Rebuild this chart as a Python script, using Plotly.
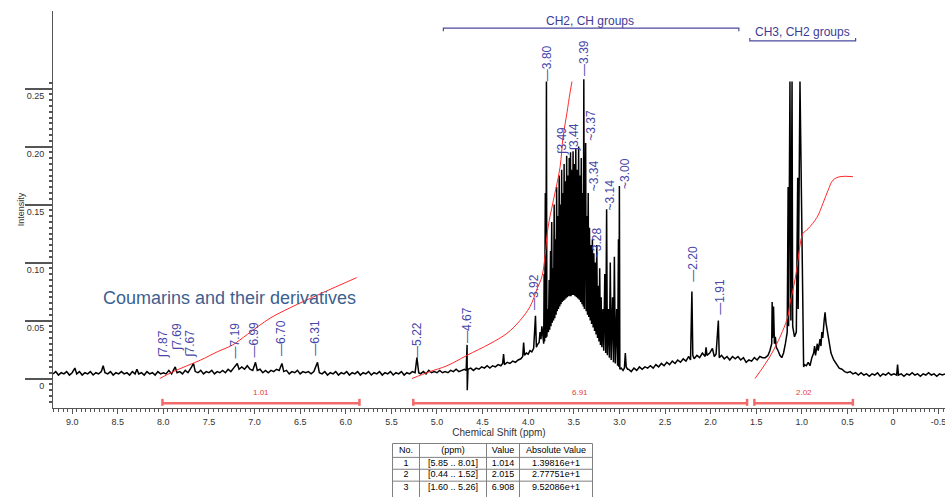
import numpy as np
import plotly.graph_objects as go

# ---------------- data ----------------
# spectrum: (chemical shift in ppm, intensity)
aromatic_region = [
    (9.21, .004), (9.18, .006), (9.15, .003), (9.12, .005), (9.09, .004), (9.06, .006), (9.03, .003), (9.00, .005),
    (8.97, .009), (8.95, .004), (8.92, .006), (8.89, .003), (8.86, .005), (8.83, .004), (8.80, .006), (8.77, .003),
    (8.74, .005), (8.71, .004), (8.68, .006), (8.66, .011), (8.64, .005), (8.61, .004), (8.58, .006), (8.55, .003),
    (8.52, .005), (8.49, .004), (8.46, .006), (8.43, .004), (8.40, .005), (8.37, .003), (8.34, .006), (8.31, .004),
    (8.29, .008), (8.27, .004), (8.24, .005), (8.21, .003), (8.18, .006), (8.15, .004), (8.12, .005), (8.09, .003),
    (8.06, .006), (8.03, .004), (8.00, .005), (7.97, .004), (7.94, .007), (7.91, .004), (7.87, .010), (7.85, .005),
    (7.82, .006), (7.79, .004), (7.76, .007), (7.73, .005), (7.69, .010), (7.67, .013), (7.65, .006), (7.62, .005),
    (7.59, .007), (7.56, .004), (7.53, .006), (7.50, .005), (7.47, .007), (7.44, .004), (7.41, .006), (7.38, .005),
    (7.35, .007), (7.32, .005), (7.29, .008), (7.26, .006), (7.23, .009), (7.19, .013), (7.17, .008), (7.14, .010),
    (7.11, .008), (7.08, .011), (7.05, .008), (7.02, .007), (6.99, .014), (6.97, .007), (6.94, .008), (6.91, .005),
    (6.88, .007), (6.85, .005), (6.82, .007), (6.79, .006), (6.76, .008), (6.73, .007), (6.70, .013), (6.68, .006),
    (6.65, .007), (6.62, .004), (6.59, .006), (6.56, .005), (6.53, .007), (6.50, .004), (6.47, .006), (6.44, .005),
    (6.41, .006), (6.38, .004), (6.35, .006), (6.31, .014), (6.29, .005), (6.26, .004), (6.23, .006), (6.20, .003),
    (6.17, .005), (6.14, .004), (6.11, .006), (6.08, .003), (6.05, .005), (6.02, .004), (5.99, .006), (5.96, .003),
    (5.93, .005), (5.90, .004), (5.87, .006), (5.84, .003), (5.81, .005), (5.78, .004), (5.75, .006), (5.72, .003),
    (5.69, .005), (5.66, .004), (5.63, .006), (5.60, .003), (5.57, .005), (5.54, .004), (5.51, .006), (5.48, .003),
    (5.45, .005), (5.42, .004), (5.39, .006), (5.36, .003), (5.33, .005), (5.30, .004), (5.27, .006), (5.24, .005),
    (5.22, .018), (5.20, .005),
]

rising_region = [
    (5.18, .004), (5.15, .006), (5.12, .004), (5.09, .007), (5.06, .005), (5.03, .006), (5.00, .005), (4.97, .007),
    (4.94, .005), (4.91, .006), (4.88, .005), (4.85, .007), (4.82, .006), (4.79, .008), (4.76, .006), (4.73, .007),
    (4.70, .008), (4.68, .007), (4.67, .029), (4.668, -.010), (4.66, .008), (4.63, .009), (4.60, .007), (4.57, .009),
    (4.54, .008), (4.51, .010), (4.48, .009), (4.45, .011), (4.42, .009), (4.39, .011), (4.36, .010), (4.33, .012),
    (4.30, .011), (4.28, .013), (4.27, .021), (4.26, .012), (4.23, .014), (4.20, .013), (4.17, .015), (4.14, .014),
    (4.11, .016), (4.08, .017), (4.06, .019), (4.05, .031), (4.04, .020), (4.02, .022), (4.00, .021), (3.98, .024),
    (3.96, .023), (3.94, .026), (3.92, .054), (3.91, .027), (3.90, .029), (3.88, .031), (3.87, .040), (3.86, .034),
    (3.85, .045), (3.84, .038),
]

sugar_region = [
    (3.830, .030), (3.825, .090), (3.820, .032), (3.812, .160), (3.806, .035), (3.800, .256), (3.795, .036),
    (3.785, .060), (3.778, .040), (3.770, .085), (3.764, .042), (3.755, .110), (3.750, .045), (3.742, .135),
    (3.736, .048), (3.728, .095), (3.722, .050), (3.715, .150), (3.708, .052), (3.700, .120), (3.694, .055),
    (3.688, .165), (3.682, .058), (3.675, .140), (3.668, .060), (3.660, .175), (3.654, .062), (3.647, .150),
    (3.640, .064), (3.633, .180), (3.627, .066), (3.620, .160), (3.613, .067), (3.606, .185), (3.600, .068),
    (3.593, .170), (3.586, .069), (3.578, .192), (3.572, .070), (3.565, .175), (3.558, .071), (3.550, .190),
    (3.543, .071), (3.536, .195), (3.530, .071), (3.522, .180), (3.515, .072), (3.508, .196), (3.500, .072),
    (3.492, .185), (3.486, .071), (3.478, .198), (3.470, .070), (3.462, .180), (3.455, .069), (3.447, .200),
    (3.440, .068), (3.432, .175), (3.425, .066), (3.418, .190), (3.410, .064), (3.403, .160), (3.396, .062),
    (3.390, .258), (3.384, .060), (3.376, .150), (3.370, .203), (3.364, .058), (3.357, .140), (3.350, .055),
    (3.342, .160), (3.336, .053), (3.328, .130), (3.320, .050), (3.312, .115), (3.305, .047), (3.296, .120),
    (3.288, .044), (3.280, .108), (3.272, .041), (3.264, .100), (3.256, .038), (3.248, .115), (3.240, .035),
    (3.232, .080), (3.224, .032), (3.216, .095), (3.208, .029), (3.200, .070), (3.192, .027), (3.180, .060),
    (3.172, .024), (3.160, .090), (3.150, .022), (3.140, .146), (3.132, .020), (3.120, .060), (3.110, .018),
    (3.100, .100), (3.090, .016), (3.075, .070), (3.065, .014), (3.055, .105), (3.045, .013), (3.030, .060),
    (3.020, .011), (3.010, .120), (3.005, .010), (3.000, .166), (2.995, .008), (2.980, .009), (2.960, .007),
    (2.945, .009), (2.935, .022), (2.925, .010), (2.910, .008),
]

middle_region = [
    (2.90, .008), (2.87, .006), (2.84, .009), (2.81, .007), (2.78, .010), (2.75, .008), (2.72, .010), (2.69, .009),
    (2.66, .011), (2.63, .009), (2.60, .012), (2.57, .010), (2.54, .013), (2.51, .011), (2.48, .014), (2.45, .012),
    (2.42, .015), (2.39, .013), (2.36, .016), (2.33, .014), (2.30, .017), (2.27, .015), (2.24, .019), (2.22, .016),
    (2.205, .075), (2.195, .020), (2.18, .017), (2.15, .020), (2.12, .018), (2.09, .022), (2.06, .019), (2.05, .027),
    (2.04, .020), (2.01, .022), (1.98, .026), (1.96, .019), (1.94, .021), (1.915, .050), (1.905, .018), (1.88, .020),
    (1.85, .017), (1.82, .019), (1.79, .016), (1.76, .019), (1.73, .017), (1.70, .019), (1.67, .016), (1.64, .018),
    (1.61, .014), (1.58, .016), (1.55, .015), (1.52, .018), (1.49, .016), (1.46, .019), (1.43, .018),
]

aliphatic_region = [
    (1.40, .018), (1.37, .020), (1.35, .024), (1.33, .030), (1.325, .066), (1.32, .035), (1.31, .062), (1.30, .030),
    (1.29, .036), (1.28, .027), (1.26, .024), (1.24, .020), (1.22, .018), (1.20, .022), (1.18, .030), (1.16, .040),
    (1.15, .165), (1.145, .045), (1.13, .256), (1.12, .050), (1.107, .256), (1.10, .045), (1.08, .036), (1.06, .040),
    (1.045, .173), (1.04, .060), (1.02, .256), (1.01, .188), (1.00, .150), (0.99, .030), (0.98, .010), (0.97, .012),
    (0.95, .011), (0.93, .014), (0.91, .011), (0.89, .018), (0.87, .022), (0.86, .028), (0.85, .020), (0.83, .030),
    (0.82, .024), (0.80, .034), (0.79, .028), (0.78, .040), (0.77, .035), (0.755, .050), (0.745, .057), (0.735, .048),
    (0.72, .040), (0.70, .030), (0.68, .022), (0.65, .016), (0.62, .012), (0.59, .009), (0.56, .008), (0.53, .006),
    (0.50, .005), (0.47, .006), (0.44, .004), (0.41, .005), (0.38, .003), (0.35, .005), (0.32, .003), (0.29, .004),
    (0.26, .002), (0.23, .004), (0.20, .003), (0.17, .005), (0.14, .002), (0.11, .004), (0.08, .003), (0.05, .005),
    (0.02, .003), (-0.01, .004), (-0.04, .003), (-0.05, .012), (-0.06, .003), (-0.09, .004), (-0.12, .002),
    (-0.15, .004), (-0.18, .003), (-0.21, .005), (-0.24, .003), (-0.27, .004), (-0.30, .002), (-0.33, .004),
    (-0.36, .003), (-0.39, .005), (-0.42, .003), (-0.45, .004), (-0.48, .002), (-0.51, .004), (-0.54, .003),
    (-0.57, .004),
]

# integral curves: (ppm, integral height)
integral_coumarins = [(8.04, 0.000), (7.89, 0.006), (7.59, 0.016), (7.41, 0.023), (7.24, 0.029), (7.08, 0.038),
                      (6.83, 0.052), (6.61, 0.061), (6.28, 0.073), (5.88, 0.087)]
integral_sugars = [(5.274, 0.000), (5.077, 0.006), (4.890, 0.011), (4.671, 0.020), (4.419, 0.030), (4.232, 0.039),
                   (4.090, 0.050), (3.980, 0.062), (3.904, 0.077), (3.849, 0.088), (3.816, 0.105), (3.783, 0.130),
                   (3.728, 0.152), (3.651, 0.182), (3.618, 0.208), (3.575, 0.229), (3.542, 0.246), (3.520, 0.256)]
integral_aliphatic = [(1.513, 0.000), (1.327, 0.022), (1.162, 0.051), (1.129, 0.065), (1.075, 0.085), (1.042, 0.102),
                      (1.020, 0.115), (0.987, 0.125), (0.932, 0.129), (0.833, 0.139), (0.768, 0.151), (0.713, 0.162),
                      (0.658, 0.171), (0.581, 0.174), (0.439, 0.174)]

# peak picking labels
peak_shifts = [7.87, 7.69, 7.67, 7.19, 6.99, 6.70, 6.31, 5.22, 4.67, 3.92, 3.80, 3.49, 3.44, 3.39, 3.37, 3.34,
               3.28, 3.14, 3.00, 2.20, 1.91]
peak_marks = ["∫", "∫", "∫", "—", "—", "—", "—", "—", "—", "—", "—", "∫", "∫", "—", "~", "~", "~", "~", "~", "—", "—"]

# integration table
table_header = ["No.", "(ppm)", "Value", "Absolute Value"]
table_no = ["1", "2", "3"]
table_range = ["[5.85 .. 8.01]", "[0.44 .. 1.52]", "[1.60 .. 5.26]"]
table_value = ["1.014", "2.015", "6.908"]
table_abs = ["1.39816e+1", "2.77751e+1", "9.52086e+1"]
integral_starts = [8.01, 1.52, 5.26]
integral_ends = [5.85, 0.44, 1.60]
integral_labels = ["1.01", "2.02", "6.91"]

# group brackets
group_names = ["CH2, CH groups", "CH3, CH2 groups"]
group_starts = [4.93, 1.57]
group_ends = [1.69, 0.41]

x_tick_vals = [9.0, 8.5, 8.0, 7.5, 7.0, 6.5, 6.0, 5.5, 5.0, 4.5, 4.0, 3.5, 3.0, 2.5, 2.0, 1.5, 1.0, 0.5, 0.0, -0.5]
x_tick_text = ["9.0", "8.5", "8.0", "7.5", "7.0", "6.5", "6.0", "5.5", "5.0", "4.5", "4.0", "3.5", "3.0", "2.5",
               "2.0", "1.5", "1.0", "0.5", "0", "-0.5"]
y_tick_vals = [0, 0.05, 0.10, 0.15, 0.20, 0.25]
y_tick_text = ["0", "0.05", "0.10", "0.15", "0.20", "0.25"]

# ---------------- figure ----------------
FONT = "Liberation Sans, Arial, sans-serif"
LABEL_BLUE = "#4747a8"
RED = "#ff2a2a"
BRACKET_RED = "#f26a6a"

spectrum = aromatic_region + rising_region + sugar_region + middle_region + aliphatic_region
spec_x = [p[0] for p in spectrum]
spec_y = [p[1] for p in spectrum]

fig = go.Figure()
fig.add_trace(go.Scatter(x=spec_x, y=spec_y, mode="lines", line=dict(color="black", width=1.5),
                         hoverinfo="skip"))

for curve in (integral_coumarins, integral_sugars, integral_aliphatic):
    fig.add_trace(go.Scatter(x=[p[0] for p in curve], y=[p[1] for p in curve], mode="lines",
                             line=dict(color=RED, width=1, shape="spline"), hoverinfo="skip"))

# integration brackets under the baseline
BR_Y, BR_LO, BR_HI = -0.0213, -0.0235, -0.0175
for s, e, lab in zip(integral_starts, integral_ends, integral_labels):
    fig.add_trace(go.Scatter(x=[s, s, None, s, e, None, e, e], y=[BR_LO, BR_HI, None, BR_Y, BR_Y, None, BR_LO, BR_HI],
                             mode="lines", line=dict(color=BRACKET_RED, width=2.5), hoverinfo="skip"))
    fig.add_annotation(x=(s + e) / 2, y=-0.0118, text=lab, showarrow=False,
                       font=dict(family=FONT, size=8, color="#e83a3a"))

# group brackets at the top
g_y = [0.3021, 0.2910]
g_hook = [-0.0028, 0.0026]
for name, s, e, gy, gh in zip(group_names, group_starts, group_ends, g_y, g_hook):
    fig.add_trace(go.Scatter(x=[s, s, e, e], y=[gy + gh, gy, gy, gy + gh], mode="lines",
                             line=dict(color="#4a4aa0", width=1.2), hoverinfo="skip"))
fig.add_annotation(x=3.32, y=0.3085, text=group_names[0], showarrow=False,
                   font=dict(family=FONT, size=12, color="#3c3c98"))
fig.add_annotation(x=0.99, y=0.2985, text=group_names[1], showarrow=False,
                   font=dict(family=FONT, size=12, color="#3c3c98"))

fig.add_annotation(x=7.27, y=0.0695, text="Coumarins and their derivatives", showarrow=False,
                   font=dict(family=FONT, size=18, color="#3d5f8f"))

# peak labels (rotated), placement in (ppm, intensity of label foot)
label_pos = [(8.00, 0.016), (7.85, 0.022), (7.71, 0.016), (7.21, 0.016), (7.01, 0.016), (6.71, 0.0177),
             (6.34, 0.0177), (5.22, 0.016), (4.67, 0.029), (3.93, 0.057), (3.80, 0.255), (3.63, 0.191),
             (3.49, 0.194), (3.39, 0.259), (3.32, 0.203), (3.27, 0.160), (3.25, 0.102), (3.10, 0.143),
             (2.94, 0.162), (2.19, 0.082), (1.90, 0.053)]
for v, mk, (lx, ly) in zip(peak_shifts, peak_marks, label_pos):
    fig.add_annotation(x=lx, y=ly, text=f"{mk}{v:.2f}", textangle=-90, showarrow=False,
                       xanchor="center", yanchor="bottom",
                       font=dict(family=FONT, size=12, color=LABEL_BLUE))

# ---------------- integration table on its own (hidden) axes ----------------
col_widths = [27, 67, 33, 73]          # table geometry in pixels
row_edges = [0, 14, 26, 38]            # header top / row separators, pixels from table top
row_centers = [7.5, 20, 32, 45]
col_edges = list(np.cumsum([0] + col_widths))
col_centers = [(col_edges[i] + col_edges[i + 1]) / 2 for i in range(len(col_widths))]
columns = [[h] + list(c) for h, c in zip(table_header, [table_no, table_range, table_value, table_abs])]

grid_x, grid_y = [], []
for ry in row_edges:
    grid_x += [col_edges[0], col_edges[-1], None]
    grid_y += [ry, ry, None]
for cx in col_edges:
    grid_x += [cx, cx, None]
    grid_y += [0, 60, None]
fig.add_trace(go.Scatter(x=grid_x, y=grid_y, mode="lines", xaxis="x2", yaxis="y2",
                         line=dict(color="#808080", width=1), hoverinfo="skip"))
tx, ty, tt = [], [], []
for ci, col in enumerate(columns):
    for ri, txt in enumerate(col):
        tx.append(col_centers[ci]); ty.append(row_centers[ri]); tt.append(txt)
fig.add_trace(go.Scatter(x=tx, y=ty, text=tt, mode="text", xaxis="x2", yaxis="y2",
                         textfont=dict(family=FONT, size=9, color="black"), hoverinfo="skip"))

fig.update_layout(
    width=945, height=497, margin=dict(l=0, r=0, t=0, b=0),
    paper_bgcolor="white", plot_bgcolor="white", showlegend=False,
    font=dict(family=FONT, color="#333333"),
    xaxis=dict(domain=[53 / 945, 1], range=[9.21, -0.57], showline=True, linecolor="#555555", linewidth=1,
               ticks="outside", ticklen=5, tickcolor="#555555", tickvals=x_tick_vals, ticktext=x_tick_text,
               tickfont=dict(size=9, color="#333333"), showgrid=False, zeroline=False, automargin=False,
               ticklabeloverflow="allow",
               minor=dict(tickvals=[round(v, 2) for v in np.arange(-0.55, 9.21, 0.05)], ticks="outside",
                          ticklen=3, tickcolor="#555555"),
               title=dict(text="Chemical Shift (ppm)", font=dict(size=10, color="#333333"), standoff=1)),
    yaxis=dict(domain=[89 / 497, 486 / 497], range=[-0.0254, 0.3168], showline=True, linecolor="#555555",
               linewidth=1, ticks="outside", ticklen=27, tickwidth=1.5, tickcolor="#555555",
               tickvals=y_tick_vals, ticktext=y_tick_text, tickfont=dict(size=9, color="#333333"),
               ticklabelstandoff=-21, ticklabelshift=7, showgrid=False, zeroline=False, automargin=False,
               minor=dict(tickvals=[round(v, 3) for v in np.arange(-0.02, 0.2551, 0.005)], ticks="outside",
                          ticklen=3, tickcolor="#555555"),
               title=dict(text="Intensity", font=dict(size=9, color="#333333"), standoff=0)),
    xaxis2=dict(domain=[392 / 945, 593 / 945], range=[-0.5, 200.5], visible=False, fixedrange=True),
    yaxis2=dict(domain=[0, 54 / 497], range=[54, -0.5], visible=False, fixedrange=True),
)

fig.write_html("out.html", config={"displayModeBar": False},
               post_script="document.body.style.margin='0px';")
